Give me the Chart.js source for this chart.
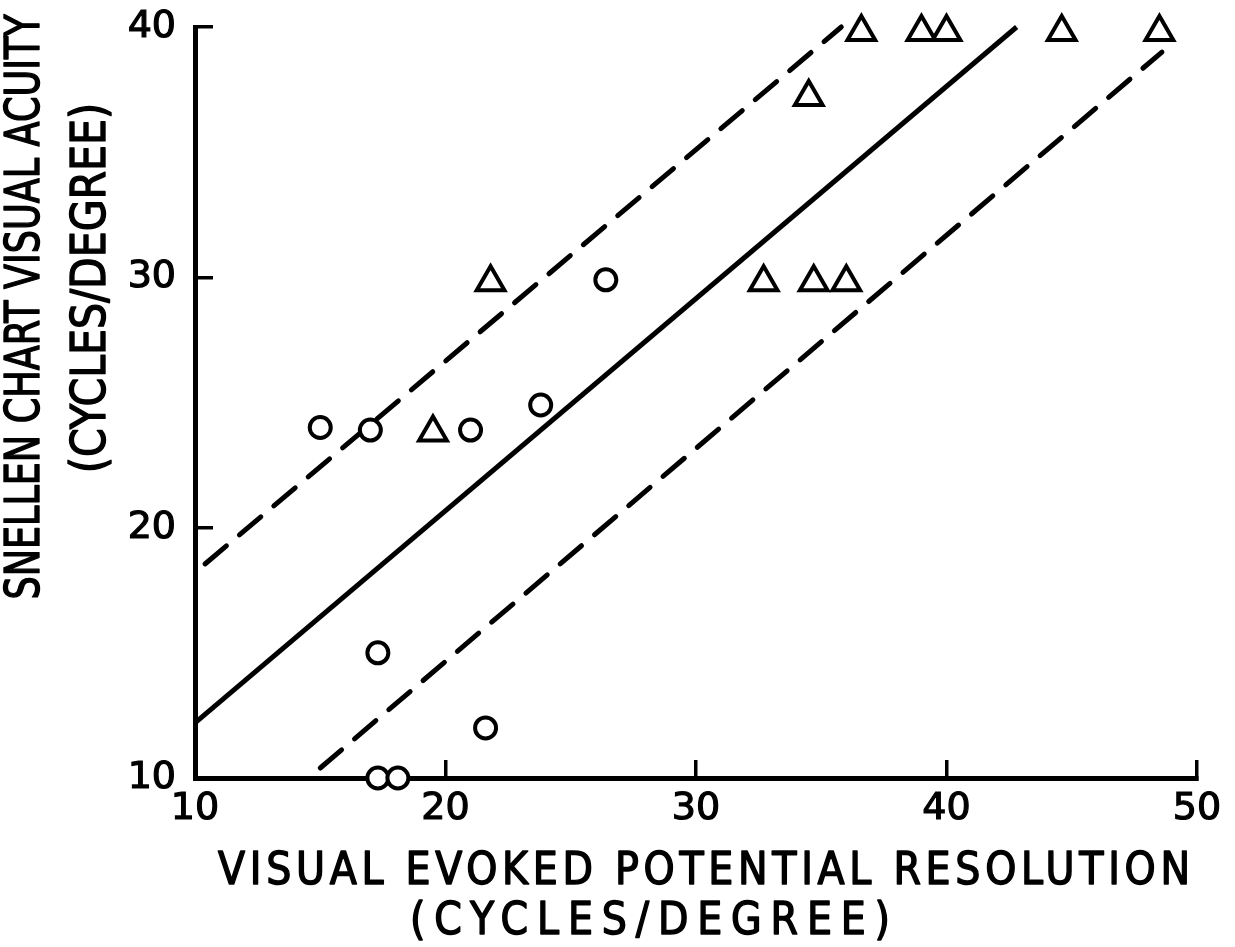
<!DOCTYPE html>
<html>
<head>
<meta charset="utf-8">
<script src="https://cdn.jsdelivr.net/npm/chart.js@4.4.1/dist/chart.umd.min.js"></script>
<style>
  html, body { margin: 0; padding: 0; background: #fff; }
  #wrap { width: 1235px; height: 947px; }
</style>
</head>
<body>
<div id="wrap"><canvas id="vepChart" width="1235" height="947"></canvas></div>
<script>
// Values
const circleX = [15.0, 17.0, 17.3, 17.3, 18.1, 21.0, 21.6, 23.8, 26.4];
const circleY = [24.0, 23.9, 15.0, 10.0, 10.0, 23.9, 12.0, 24.9, 29.9];

const triangleX = [19.5, 21.8, 32.7, 34.5, 34.7, 36.0, 36.6, 39.0, 40.0, 44.6, 48.5];
const triangleY = [23.8, 29.8, 29.8, 37.2, 29.8, 29.8, 39.8, 39.8, 39.8, 39.8, 39.8];

// regression line and the two dashed limits (end points)
const fitX = [10, 42.8];
const fitY = [12.2, 40];
const upperX = [10.4, 35.8];
const upperY = [18.55, 40];
const lowerX = [15.0, 48.6];
const lowerY = [10.4, 39.0];

const xTicks = [10, 20, 30, 40, 50];
const yTicks = [10, 20, 30, 40];

const xTitle = ['VISUAL EVOKED POTENTIAL RESOLUTION', '(CYCLES/DEGREE)'];
const yTitle = ['SNELLEN CHART VISUAL ACUITY', '(CYCLES/DEGREE)'];

const toPoints = (xs, ys) => xs.map((x, i) => ({ x: x, y: ys[i] }));

// draw a line of text stretched (or squeezed) to a given span
function drawSpaced(ctx, text, cx, cy, span, angle, font) {
  ctx.save();
  ctx.translate(cx, cy);
  ctx.rotate(angle);
  ctx.font = font;
  ctx.fillStyle = '#000';
  ctx.strokeStyle = '#000';
  ctx.lineWidth = 1.4;
  ctx.lineJoin = 'round';
  ctx.textAlign = 'left';
  ctx.textBaseline = 'middle';
  ctx.letterSpacing = '0px';
  const natural = ctx.measureText(text).width;
  const spacing = (span - natural) / (text.length - 1);
  if (spacing < 0) {
    ctx.scale(span / natural, 1);
    ctx.fillText(text, -natural / 2, 0);
    ctx.strokeText(text, -natural / 2, 0);
  } else {
    ctx.letterSpacing = spacing + 'px';
    ctx.fillText(text, -span / 2, 0);
    ctx.strokeText(text, -span / 2, 0);
  }
  ctx.restore();
}

const axisTitles = {
  id: 'axisTitles',
  afterDraw(chart) {
    const ctx = chart.ctx;
    drawSpaced(ctx, xTitle[0], 704, 873, 972, 0, '44px "DejaVu Sans Condensed"');
    drawSpaced(ctx, xTitle[1], 650, 923, 480, 0, '44px "DejaVu Sans Condensed"');
    drawSpaced(ctx, yTitle[0], 27, 307, 585, -Math.PI / 2, '48px "DejaVu Sans Condensed"');
    drawSpaced(ctx, yTitle[1], 93, 288, 370, -Math.PI / 2, '48px "DejaVu Sans Condensed"');
  }
};

const ctx = document.getElementById('vepChart').getContext('2d');

const vepChart = new Chart(ctx, {
  type: 'scatter',
  data: {
    datasets: [{
      label: 'Circles',
      data: toPoints(circleX, circleY),
      pointStyle: 'circle',
      pointRadius: 10.5,
      pointBorderWidth: 4,
      borderColor: '#000',
      backgroundColor: '#fff',
      clip: false,
    }, {
      label: 'Triangles',
      data: toPoints(triangleX, triangleY),
      pointStyle: 'triangle',
      pointRadius: 16,
      pointBorderWidth: 4,
      borderColor: '#000',
      backgroundColor: '#fff',
      clip: false,
    }, {
      label: 'Fit',
      data: toPoints(fitX, fitY),
      showLine: true,
      borderColor: '#000',
      borderWidth: 5,
      pointRadius: 0,
      clip: false,
    }, {
      label: 'Upper',
      data: toPoints(upperX, upperY),
      showLine: true,
      borderColor: '#000',
      borderWidth: 5,
      borderDash: [28, 17],
      borderCapStyle: 'round',
      pointRadius: 0,
      clip: false,
    }, {
      label: 'Lower',
      data: toPoints(lowerX, lowerY),
      showLine: true,
      borderColor: '#000',
      borderWidth: 5,
      borderDash: [28, 17],
      borderCapStyle: 'round',
      pointRadius: 0,
      clip: false,
    }]
  },
  options: {
    responsive: false,
    devicePixelRatio: 1,
    animation: false,
    layout: {
      padding: { top: 27, right: 38, left: 0, bottom: 0 }
    },
    scales: {
      x: {
        type: 'linear',
        position: 'bottom',
        min: 10,
        max: 50,
        afterBuildTicks: s => { s.ticks = xTicks.map(v => ({ value: v })); },
        afterFit: s => { s.height = 169; s.paddingLeft = 0; s.paddingRight = 0; },
        grid: { drawOnChartArea: false, drawTicks: true, tickLength: -18, lineWidth: 3.5, color: '#000' },
        border: { display: true, width: 5, color: '#000' },
        ticks: { color: '#000', padding: 26, textStrokeColor: '#000', textStrokeWidth: 1.2,
                 font: { family: 'DejaVu Sans', size: 38 } }
      },
      y: {
        type: 'linear',
        min: 10,
        max: 40,
        afterBuildTicks: s => { s.ticks = yTicks.map(v => ({ value: v })); },
        afterFit: s => { s.width = 195; s.paddingTop = 0; s.paddingBottom = 0; },
        grid: { drawOnChartArea: false, drawTicks: true, tickLength: -18, lineWidth: 3.5, color: '#000' },
        border: { display: true, width: 5, color: '#000' },
        ticks: { color: '#000', padding: 37, textStrokeColor: '#000', textStrokeWidth: 1.2,
                 font: { family: 'DejaVu Sans', size: 38 } }
      }
    },
    plugins: {
      legend: { display: false },
      tooltip: { enabled: false }
    }
  },
  plugins: [axisTitles]
});
</script>
</body>
</html>
